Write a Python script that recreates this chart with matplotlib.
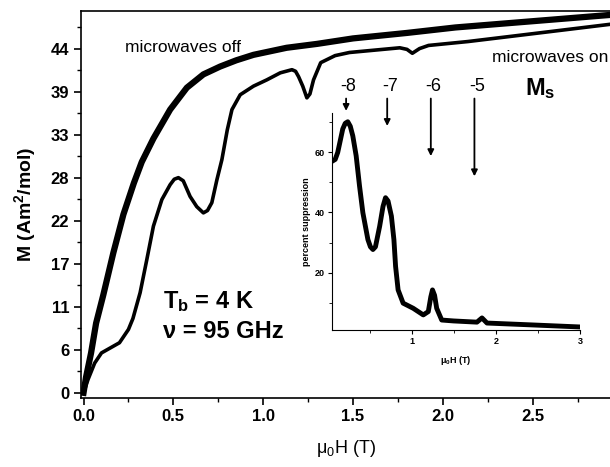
import matplotlib.pyplot as plt

plt.rcParams['font.family'] = ['Liberation Sans', 'DejaVu Sans']
plt.rcParams['mathtext.default'] = 'regular'

# main panel: magnetisation vs field
h_off = [0.0, 0.014, 0.042, 0.07, 0.11, 0.166, 0.222, 0.28, 0.324, 0.389, 0.482, 0.575,
         0.667, 0.76, 0.85, 0.946, 1.13, 1.30, 1.5, 1.8, 2.07, 2.5, 2.93]
m_off = [0.0, 2.0, 5.1, 8.9, 12.5, 17.9, 22.8, 26.8, 29.5, 32.5, 36.2, 39.0,
         40.7, 41.7, 42.5, 43.2, 44.1, 44.6, 45.3, 46.0, 46.7, 47.5, 48.3]

h_on = [0.0, 0.025, 0.062, 0.10, 0.15, 0.20, 0.25, 0.275, 0.315, 0.352, 0.389, 0.436,
        0.482, 0.505, 0.528, 0.555, 0.593, 0.63, 0.667, 0.69, 0.714, 0.742, 0.77, 0.80,
        0.826, 0.872, 0.946, 1.02, 1.095, 1.16, 1.18, 1.197, 1.22, 1.243, 1.26, 1.28,
        1.32, 1.40, 1.48, 1.62, 1.76, 1.80, 1.83, 1.87, 1.92, 2.14, 2.5, 2.93]
m_on = [0.0, 1.7, 3.8, 5.1, 5.75, 6.4, 8.1, 9.5, 12.8, 17.0, 21.3, 24.7,
        26.6, 27.3, 27.5, 27.1, 25.1, 23.8, 23.0, 23.3, 24.3, 27.2, 29.8, 33.6,
        36.2, 38.1, 39.2, 40.0, 40.9, 41.3, 41.1, 40.4, 39.2, 37.7, 38.2, 40.0,
        42.2, 43.1, 43.5, 43.8, 44.1, 43.9, 43.4, 44.0, 44.4, 44.9, 45.9, 47.1]

y_ticks = [0, 5.5, 11, 16.5, 22, 27.5, 33, 38.5, 44]
y_tick_labels = ["0", "6", "11", "17", "22", "28", "33", "39", "44"]
x_ticks = [0.0, 0.5, 1.0, 1.5, 2.0, 2.5]

# inset: percent suppression
h_sup = [0.05, 0.08, 0.11, 0.17, 0.20, 0.23, 0.26, 0.29, 0.33, 0.37, 0.41, 0.47, 0.50,
         0.53, 0.56, 0.61, 0.65, 0.68, 0.71, 0.75, 0.78, 0.80, 0.83, 0.89, 1.01, 1.13,
         1.19, 1.22, 1.24, 1.265, 1.29, 1.35, 1.49, 1.77, 1.83, 1.89, 2.41, 3.0]
p_sup = [57.1, 57.6, 59.9, 67.7, 69.6, 70.1, 68.6, 65.4, 58.8, 48.8, 39.9, 31.0, 28.6,
         27.7, 28.6, 35.4, 42.0, 44.9, 43.8, 38.8, 31.0, 22.1, 14.3, 9.9, 8.2, 6.0,
         7.1, 12.0, 14.3, 12.5, 8.2, 4.3, 4.0, 3.6, 5.0, 3.3, 2.7, 2.0]

ms_labels = ["-8", "-7", "-6", "-5"]
ms_fields = [0.21, 0.70, 1.22, 1.74]
arrow_tips = [73.7, 68.7, 58.7, 52.0]

fig = plt.figure(figsize=(6.1, 4.67), dpi=100)
ax = fig.add_axes([0.1328, 0.1488, 0.8672, 0.8276])

ax.plot(h_off, m_off, '-', color='black', lw=4.5, solid_joinstyle='round')
ax.plot(h_on, m_on, '-', color='black', lw=2.6, solid_joinstyle='round')

ax.set_xlim(-0.014, 2.93)
ax.set_ylim(-0.6, 48.8)
ax.set_yticks(y_ticks)
ax.set_yticklabels(y_tick_labels)
ax.set_yticks([2.75 + 5.5 * i for i in range(9)], minor=True)
ax.set_xticks(x_ticks)
ax.set_xticks([0.25, 0.75, 1.25, 1.75, 2.25, 2.75], minor=True)
ax.spines['right'].set_visible(False)
for s in ax.spines.values():
    s.set_linewidth(1.2)
ax.tick_params(which='major', direction='out', length=5, width=1.2, labelsize=12)
ax.tick_params(which='minor', direction='out', length=3, width=1)
for lab in ax.get_xticklabels() + ax.get_yticklabels():
    lab.set_fontweight('bold')

ax.set_ylabel("M (Am$^{2}$/mol)", fontsize=14, fontweight='bold', labelpad=9)
ax.set_xlabel("\u03bc$_0$H (T)", fontsize=13, labelpad=10)

ax.text(0.23, 44.2, "microwaves off", fontsize=12.5, ha='left', va='center')
ax.text(2.92, 42.9, "microwaves on", fontsize=12.5, ha='right', va='center')
ax.text(0.44, 11.7, "T$_b$ = 4 K", fontsize=17, fontweight='bold', ha='left', va='center')
ax.text(0.44, 7.9, "\u03bd = 95 GHz", fontsize=17, fontweight='bold', ha='left', va='center')

# inset
ins = fig.add_axes([0.544, 0.2934, 0.407, 0.4646])
ins.plot(h_sup, p_sup, '-', color='black', lw=3.5, solid_joinstyle='round')
ins.set_xlim(0.04, 3.0)
ins.set_ylim(1, 73)
ins.set_xticks([1, 2, 3])
ins.set_xticks([0.5, 1.5, 2.5], minor=True)
ins.set_yticks([20, 40, 60])
ins.set_yticks([10, 30, 50, 70], minor=True)
ins.spines['top'].set_visible(False)
ins.spines['right'].set_visible(False)
ins.patch.set_alpha(0)
ins.tick_params(which='major', direction='out', length=3, width=0.8, labelsize=6.5, pad=2)
ins.tick_params(which='minor', direction='out', length=2, width=0.6)
for lab in ins.get_xticklabels() + ins.get_yticklabels():
    lab.set_fontweight('bold')
ins.set_ylabel("percent suppression", fontsize=6.5, fontweight='bold', labelpad=3)
ins.set_xlabel("\u03bc$_0$H (T)", fontsize=6.5, fontweight='bold', labelpad=6)

for lab, hx, tip in zip(ms_labels, ms_fields, arrow_tips):
    ins.annotate("", xy=(hx, tip), xytext=(hx, 77.8),
                 arrowprops=dict(arrowstyle='-|>', color='black', lw=1.3,
                                 mutation_scale=9, shrinkA=0, shrinkB=0),
                 annotation_clip=False)
    ins.text(hx + 0.03, 81.7, lab, fontsize=13, ha='center', va='center', clip_on=False)
ins.text(2.52, 81.2, "M$_s$", fontsize=17, fontweight='bold', ha='center', va='center',
         clip_on=False)

fig.savefig("out.png", dpi=100)
